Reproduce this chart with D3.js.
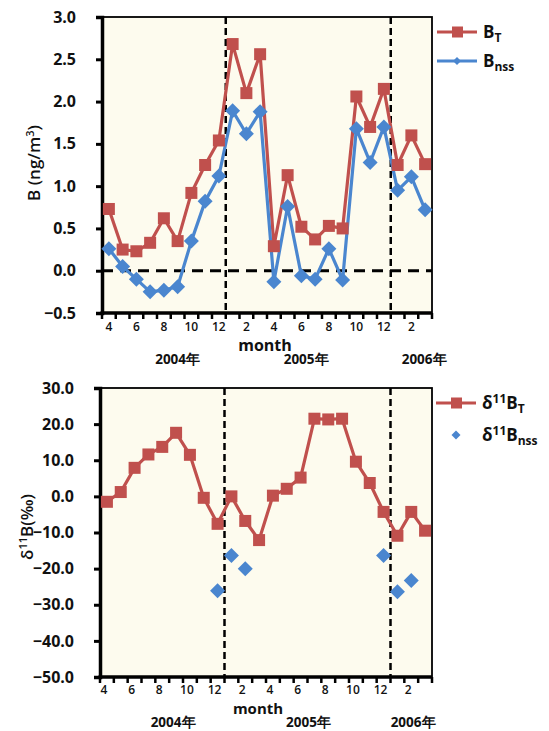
<!DOCTYPE html>
<html>
<head>
<meta charset="utf-8">
<script src="https://cdn.jsdelivr.net/npm/d3@7/dist/d3.min.js"></script>
<style>
  body { margin: 0; background: #fff; }
  text { font-family: "Open Sans", sans-serif; font-weight: 700; fill: #111; }
</style>
</head>
<body>
<svg id="chart" width="549" height="731"></svg>
<script>
// sampling months, Apr 2004 .. Mar 2006
const years  = [2004,2004,2004,2004,2004,2004,2004,2004,2004,
                2005,2005,2005,2005,2005,2005,2005,2005,2005,2005,2005,2005,
                2006,2006,2006];
const months = [4,5,6,7,8,9,10,11,12, 1,2,3,4,5,6,7,8,9,10,11,12, 1,2,3];

// boron concentration (ng/m3)
const bT   = [0.73,0.25,0.23,0.33,0.62,0.35,0.92,1.25,1.54,
              2.68,2.10,2.56,0.29,1.13,0.52,0.37,0.53,0.50,2.06,1.70,2.15,
              1.25,1.60,1.26];
const bNss = [0.26,0.05,-0.10,-0.25,-0.23,-0.19,0.35,0.82,1.12,
              1.89,1.62,1.88,-0.13,0.76,-0.06,-0.10,0.26,-0.11,1.68,1.28,1.70,
              0.95,1.11,0.72];

// boron isotope ratio (permil)
const d11bT   = [-1.5,1.2,7.9,11.6,13.7,17.6,11.5,-0.4,-7.6,
                 0.0,-6.8,-12.1,0.2,2.1,5.2,21.5,21.3,21.5,9.6,3.7,-4.3,
                 -10.9,-4.3,-9.5];
const d11bNss = [null,null,null,null,null,null,null,null,-26.1,
                 -16.4,-20.0,null,null,null,null,null,null,null,null,null,-16.4,
                 -26.4,-23.3,null];

const yearNames = ["2004年","2005年","2006年"];

const keys = months.map((m,i) => years[i] + "-" + m);

const RED = "#C0504D", BLUE = "#4A86CF", BG = "#FDFBEE";

const svg = d3.select("#chart");

function panel(opt) {
  const g = svg.append("g");
  const x = d3.scaleBand().domain(keys).range([opt.left, opt.right]);
  const y = d3.scaleLinear().domain(opt.domain).range([opt.bottom, opt.top]);

  g.append("rect")
    .attr("x", opt.left).attr("y", opt.top)
    .attr("width", opt.right - opt.left).attr("height", opt.bottom - opt.top)
    .attr("fill", BG).attr("stroke", "#000").attr("stroke-width", 1.8);

  // dashed year boundaries
  ["2004-12","2005-12"].forEach(k => {
    const xx = x(k) + x.bandwidth();
    g.append("line")
      .attr("x1", xx).attr("x2", xx).attr("y1", opt.top).attr("y2", opt.bottom)
      .attr("stroke", "#000").attr("stroke-width", 2.5).attr("stroke-dasharray", "7,4");
  });
  if (opt.zeroLine) {
    g.append("line")
      .attr("x1", opt.left).attr("x2", opt.right).attr("y1", y(0)).attr("y2", y(0))
      .attr("stroke", "#000").attr("stroke-width", 3).attr("stroke-dasharray", "11,7");
  }

  // y axis
  const ya = g.append("g").attr("transform", `translate(${opt.left},0)`)
    .call(d3.axisLeft(y).tickValues(opt.ticks).tickFormat(d3.format(".1f")).tickSize(6).tickPadding(20));
  ya.select(".domain").attr("stroke-width", 3.5);
  ya.selectAll(".tick line").attr("stroke-width", 3);
  ya.selectAll("text").style("font-size", "16px").style("font-family", "Open Sans, sans-serif").style("font-weight", 700).attr("fill", "#111");

  // x axis: tick marks on category edges
  const xa = g.append("g").attr("transform", `translate(0,${opt.bottom})`);
  xa.append("line").attr("x1", opt.left - 1.5).attr("x2", opt.right)
    .attr("stroke", "#000").attr("stroke-width", 3.5);
  xa.selectAll("line.tk").data(d3.range(keys.length + 1)).join("line")
    .attr("class", "tk")
    .attr("x1", i => opt.left + i * x.step()).attr("x2", i => opt.left + i * x.step())
    .attr("y1", 0).attr("y2", 6).attr("stroke", "#000").attr("stroke-width", 2.5);
  xa.selectAll("text.ml").data(keys.filter((k,i) => months[i] % 2 === 0)).join("text")
    .attr("class", "ml")
    .attr("x", k => x(k) + x.bandwidth() / 2 + opt.labShift)
    .attr("y", opt.tickY - opt.bottom)
    .attr("text-anchor", "middle").style("font-size", "12px").style("font-weight", 600)
    .text(k => k.split("-")[1]);

  g.append("text").attr("x", opt.monthX).attr("y", opt.monthY)
    .attr("text-anchor", "middle").style("font-size", opt.monthSize).text("month");

  const anchors = ["2004-9", "2005-7", "2006-3"];
  yearNames.forEach((t,i) => {
    g.append("text")
      .attr("x", x(anchors[i]) + x.bandwidth() / 2 + opt.yearShift[i])
      .attr("y", opt.yearY)
      .attr("text-anchor", "middle").style("font-size", "13.5px").text(t);
  });

  return { g, x, y };
}

function drawLine(p, vals, color) {
  const line = d3.line()
    .defined(d => d != null)
    .x((d,i) => p.x(keys[i]) + p.x.bandwidth() / 2)
    .y(d => p.y(d));
  p.g.append("path").datum(vals).attr("d", line)
    .attr("fill", "none").attr("stroke", color).attr("stroke-width", 3.2)
    .attr("stroke-linejoin", "round");
}
function drawSquares(p, vals, color, s) {
  p.g.selectAll(null).data(vals.map((v,i) => ({v,i})).filter(d => d.v != null)).join("rect")
    .attr("x", d => p.x(keys[d.i]) + p.x.bandwidth() / 2 - s / 2)
    .attr("y", d => p.y(d.v) - s / 2)
    .attr("width", s).attr("height", s).attr("fill", color);
}
function drawDiamonds(p, vals, color, s) {
  p.g.selectAll(null).data(vals.map((v,i) => ({v,i})).filter(d => d.v != null)).join("path")
    .attr("transform", d => `translate(${p.x(keys[d.i]) + p.x.bandwidth() / 2},${p.y(d.v)})`)
    .attr("d", `M0,${-s}L${s},0L0,${s}L${-s},0Z`).attr("fill", color);
}

// ---------- top panel ----------
const topPanel = panel({
  left: 102, right: 432, top: 17, bottom: 313,
  domain: [-0.5, 3.0], ticks: [-0.5,0,0.5,1,1.5,2,2.5,3],
  zeroLine: true, tickY: 331, labShift: 0,
  monthX: 265, monthY: 351, monthSize: "16px", yearY: 364, yearShift: [0, -9, -1]
});
drawLine(topPanel, bT, RED);
drawLine(topPanel, bNss, BLUE);
drawSquares(topPanel, bT, RED, 12);
drawDiamonds(topPanel, bNss, BLUE, 7.5);

svg.append("text").attr("transform", "translate(40,163) rotate(-90)")
  .attr("text-anchor", "middle").style("font-size", "17px").style("font-weight", 600)
  .html('B (ng/m<tspan dy="-6" font-size="11">3</tspan><tspan dy="6">)</tspan>');

// ---------- bottom panel ----------
const botPanel = panel({
  left: 100, right: 432, top: 388, bottom: 677,
  domain: [-50, 30], ticks: [-50,-40,-30,-20,-10,0,10,20,30],
  zeroLine: false, tickY: 694, labShift: -3,
  monthX: 258, monthY: 714, monthSize: "15px", yearY: 727, yearShift: [-3, -6, -12]
});
drawLine(botPanel, d11bT, RED);
drawSquares(botPanel, d11bT, RED, 12);
drawDiamonds(botPanel, d11bNss, BLUE, 7.5);

svg.append("text").attr("transform", "translate(33,527) rotate(-90)")
  .attr("text-anchor", "middle").style("font-size", "17px").style("font-weight", 600)
  .html('δ<tspan dy="-6" font-size="11">11</tspan><tspan dy="6">B(‰)</tspan>');

// ---------- legends ----------
function legendEntry(x0, y0, color, shape, base, sup, sub) {
  const L = svg.append("g");
  if (shape === "sq") {
    L.append("line").attr("x1", x0).attr("x2", x0 + 40).attr("y1", y0).attr("y2", y0)
      .attr("stroke", color).attr("stroke-width", 3.2);
    L.append("rect").attr("x", x0 + 15).attr("y", y0 - 5.5).attr("width", 11).attr("height", 11).attr("fill", color);
  } else if (shape === "dl") {
    L.append("line").attr("x1", x0).attr("x2", x0 + 40).attr("y1", y0).attr("y2", y0)
      .attr("stroke", color).attr("stroke-width", 3.2);
    L.append("path").attr("transform", `translate(${x0 + 20},${y0})`)
      .attr("d", "M0,-4L4,0L0,4L-4,0Z").attr("fill", color);
  } else {
    L.append("path").attr("transform", `translate(${x0 + 20},${y0})`)
      .attr("d", "M0,-4.5L4.5,0L0,4.5L-4.5,0Z").attr("fill", color);
  }
  const t = L.append("text").attr("x", x0 + 46).attr("y", y0 + 6).style("font-size", "17px");
  let h = "";
  if (sup) h += base[0] + `<tspan dy="-6" font-size="12">${sup}</tspan><tspan dy="6">${base.slice(1)}</tspan>`;
  else h += base;
  h += `<tspan dy="4" font-size="12">${sub}</tspan>`;
  t.html(h);
}
legendEntry(437, 32, RED, "sq", "B", null, "T");
legendEntry(437, 61, BLUE, "dl", "B", null, "nss");
legendEntry(436, 403, RED, "sq", "δB", "11", "T");
legendEntry(436, 435, BLUE, "d", "δB", "11", "nss");
</script>
</body>
</html>
